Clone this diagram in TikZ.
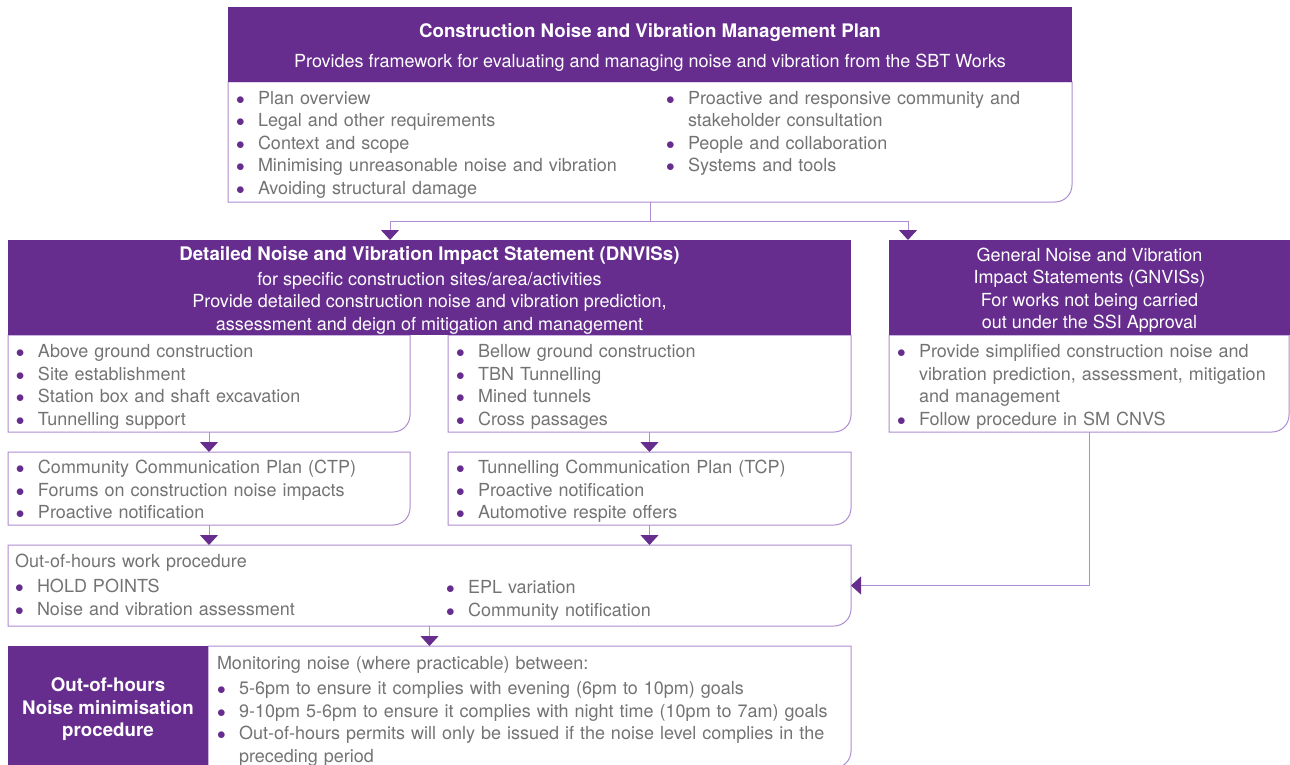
\documentclass[tikz,border=0pt]{standalone}
\usepackage{fontspec}
\setmainfont{TeX Gyre Heros}
\usepackage{tikz}
\usetikzlibrary{positioning,arrows.meta,calc}

\definecolor{plum}{HTML}{662D8E}
\definecolor{lilac}{HTML}{AD8CCF}
\definecolor{greytext}{HTML}{737373}

\tikzstyle{hdr}      = [fill=plum, inner sep=0pt, outer sep=0pt, anchor=north west]
\tikzstyle{hdrtext}  = [text=white, inner sep=0pt, align=center, font=\fontsize{18}{22.5}\selectfont]
\tikzstyle{boxarea}  = [inner sep=0pt, outer sep=0pt, anchor=north west]
\tikzstyle{items}    = [inner sep=0pt, outer sep=0pt, text width=700pt, align=left, text=greytext, font=\fontsize{18}{22.5}\selectfont]
\tikzstyle{conn}     = [draw=lilac, line width=1pt]
\tikzstyle{arrowtip} = [-{Triangle[width=18pt,length=10pt,color=plum]}]

\newcommand{\itm}[1]{\par\hangindent=22pt\hangafter=1\noindent\makebox[22pt][l]{\textcolor{plum}{$\bullet$}}\strut#1}
\newcommand{\lead}[1]{\par\noindent\strut#1}
\newcommand{\bigbf}[1]{{\fontsize{18.7}{22.5}\selectfont\bfseries #1}}
\newcommand{\cornerframe}[1]{\draw[draw=lilac, line width=1pt] (#1.north west) -- (#1.south west) -- ([xshift=-17pt]#1.south east) arc[start angle=270, end angle=360, radius=17pt] -- (#1.north east) -- cycle;}

\begin{document}
\begin{tikzpicture}[x=1pt,y=1pt]
	\useasboundingbox (0,0) rectangle (1290,-765);
	\clip (0,0) rectangle (1290,-765);

	\node[boxarea, minimum width=844pt, minimum height=120pt] (cnvmpbody) at (228,-82) {};
	\node[boxarea, minimum width=402pt, minimum height=97pt] (above) at (8,-335) {};
	\node[boxarea, minimum width=403pt, minimum height=97pt] (below) at (448,-335) {};
	\node[boxarea, minimum width=400pt, minimum height=97pt] (gnvisbody) at (889,-335) {};
	\node[boxarea, minimum width=402pt, minimum height=73pt] (ctp) at (8,-452) {};
	\node[boxarea, minimum width=403pt, minimum height=73pt] (tcp) at (448,-452) {};
	\node[boxarea, minimum width=843pt, minimum height=81pt] (ooh) at (8,-545) {};
	\node[boxarea, minimum width=643pt, minimum height=122pt] (monitor) at (208,-646) {};

	\cornerframe{cnvmpbody}
	\cornerframe{above}
	\cornerframe{below}
	\cornerframe{gnvisbody}
	\cornerframe{ctp}
	\cornerframe{tcp}
	\cornerframe{ooh}
	\cornerframe{monitor}

	\node[hdr, minimum width=844pt, minimum height=75pt] (cnvmp) at (228,-7) {};
	\node[hdr, minimum width=843pt, minimum height=95pt] (dnvis) at (8,-240) {};
	\node[hdr, minimum width=401pt, minimum height=95pt] (gnvis) at (889,-240) {};
	\node[hdr, minimum width=200pt, minimum height=122pt] (oohnoise) at (8,-646) {};

	\node[hdrtext] (cnvmptext) at ([yshift=-2.5pt]cnvmp.center) {\bigbf{Construction Noise and Vibration Management Plan}\\[7.5pt] Provides framework for evaluating and managing noise and vibration from the SBT Works};
	\node[hdrtext] (dnvistext) at ([yshift=-2.5pt]dnvis.center) {\bigbf{Detailed Noise and Vibration Impact Statement (DNVISs)}\\[2.5pt] for specific construction sites/area/activities\\ Provide detailed construction noise and vibration prediction,\\ assessment and deign of mitigation and management};
	\node[hdrtext] (gnvistext) at ([yshift=-2.5pt]gnvis.center) {General Noise and Vibration\\ Impact Statements (GNVISs)\\ For works not being carried\\ out under the SSI Approval};
	\node[hdrtext] (oohnoisetext) at ([yshift=-2.5pt]oohnoise.center) {\bigbf{Out-of-hours}\\ \bigbf{Noise minimisation}\\ \bigbf{procedure}};

	\node[items, below right=0pt and 8pt of cnvmpbody.north west] (cnvmpleft) {\itm{Plan overview}\itm{Legal and other requirements}\itm{Context and scope}\itm{Minimising unreasonable noise and vibration}\itm{Avoiding structural damage}\par};
	\node[items, below right=0pt and 438pt of cnvmpbody.north west] (cnvmpright) {\itm{Proactive and responsive community and\newline stakeholder consultation}\itm{People and collaboration}\itm{Systems and tools}\par};
	\node[items, below right=0pt and 8pt of above.north west] (abovelist) {\itm{Above ground construction}\itm{Site establishment}\itm{Station box and shaft excavation}\itm{Tunnelling support}\par};
	\node[items, below right=0pt and 8pt of below.north west] (belowlist) {\itm{Bellow ground construction}\itm{TBN Tunnelling}\itm{Mined tunnels}\itm{Cross passages}\par};
	\node[items, below right=0pt and 8pt of gnvisbody.north west] (gnvislist) {\itm{Provide simplified construction noise and\newline vibration prediction, assessment, mitigation\newline and management}\itm{Follow procedure in SM CNVS}\par};
	\node[items, below right=-1pt and 8pt of ctp.north west] (ctplist) {\itm{Community Communication Plan (CTP)}\itm{Forums on construction noise impacts}\itm{Proactive notification}\par};
	\node[items, below right=-1pt and 8pt of tcp.north west] (tcplist) {\itm{Tunnelling Communication Plan (TCP)}\itm{Proactive notification}\itm{Automotive respite offers}\par};
	\node[items, below right=0pt and 7pt of ooh.north west] (oohlist) {\lead{Out-of-hours work procedure}\vspace{2.5pt}\itm{HOLD POINTS}\itm{Noise and vibration assessment}\par};
	\node[items, below right=26pt and 438pt of ooh.north west] (oohright) {\itm{EPL variation}\itm{Community notification}\par};
	\node[items, below right=1pt and 9pt of monitor.north west] (monlist) {\lead{Monitoring noise (where practicable) between:}\vspace{2.5pt}\itm{5-6pm to ensure it complies with evening (6pm to 10pm) goals}\itm{9-10pm 5-6pm to ensure it complies with night time (10pm to 7am) goals}\itm{Out-of-hours permits will only be issued if the noise level complies in the\newline preceding period}\par};

	\draw[conn] (cnvmpbody.south) -- ++(0,-19) coordinate (split);
	\draw[conn, arrowtip] (split) -| ([xshift=382pt]dnvis.north west);
	\draw[conn, arrowtip] (split) -| ([xshift=19pt]gnvis.north west);
	\draw[conn, arrowtip] (above.south) -- (ctp.north);
	\draw[conn, arrowtip] (below.south) -- (tcp.north);
	\draw[conn, arrowtip] (ctp.south) -- (ctp.south |- ooh.north);
	\draw[conn, arrowtip] (tcp.south) -- (tcp.south |- ooh.north);
	\draw[conn, arrowtip] (gnvisbody.south) |- (ooh.east);
	\draw[conn, arrowtip] (ooh.south) -- (ooh.south |- monitor.north);
\end{tikzpicture}
\end{document}
